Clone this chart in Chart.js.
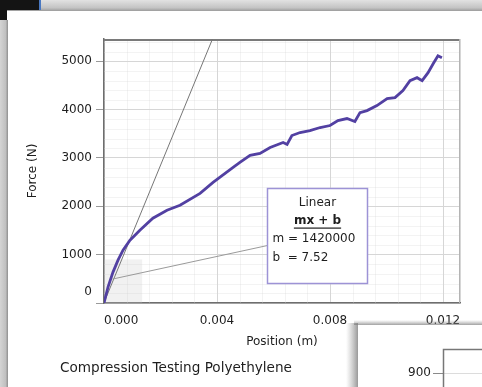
<!DOCTYPE html>
<html>
<head>
<meta charset="utf-8">
<script src="https://cdn.jsdelivr.net/npm/chart.js@4/dist/chart.umd.min.js"></script>
<style>
  html, body { margin: 0; padding: 0; background: #fff; overflow: hidden; }
  #wrap { width: 482px; height: 387px; position: relative; }
</style>
</head>
<body>
<div id="wrap"><canvas id="c" width="482" height="387"></canvas></div>
<script>
// Compression run: plunger position (m) and measured force (N)
const POSITION_M = [0, 0.000142, 0.000319, 0.000496, 0.000673, 0.00092, 0.00127, 0.00173, 0.00223,
  0.00269, 0.0034, 0.00386, 0.00457, 0.00481, 0.00517, 0.00552, 0.00588, 0.00634, 0.00648, 0.00665,
  0.00694, 0.00729, 0.00765, 0.008, 0.00828, 0.0086, 0.00888, 0.00906, 0.00931, 0.00966, 0.01002,
  0.0103, 0.01058, 0.01083, 0.01108, 0.01126, 0.01147, 0.01165, 0.01182, 0.01196];
const FORCE_N = [0, 330, 639, 887, 1093, 1299, 1505, 1753, 1918,
  2021, 2268, 2495, 2804, 2907, 3052, 3093, 3217, 3320, 3279, 3464,
  3526, 3567, 3629, 3670, 3773, 3815, 3753, 3938, 3979, 4083, 4227,
  4248, 4392, 4598, 4660, 4598, 4763, 4949, 5114, 5073];

// Axis ranges and labelled ticks
const X_RANGE = [0, 0.0126];
const Y_RANGE = [0, 5460];
const X_TICKS = [0, 0.004, 0.008, 0.012];
const Y_TICKS = [0, 1000, 2000, 3000, 4000, 5000];
const X_MINOR_STEP = 0.0008;
const Y_MINOR_STEP = 200;

// Linear fit over the initial elastic region
const FIT_M = 1420000;
const FIT_B = 7.52;
const FIT_SPAN = [0, 0.004];
const FIT_REGION_X = [0, 0.00135];
const FIT_REGION_Y = [0, 900];
const FIT_LABEL = ['Linear', 'mx + b', 'm = 1420000', 'b  = 7.52'];

const CAPTION = 'Compression Testing Polyethylene';
const SIDE_TICK = '900';

const FONT = '"DejaVu Sans", Verdana, sans-serif';

const curvePoints = POSITION_M.map((x, i) => ({ x, y: FORCE_N[i] }));
const fitPoints = FIT_SPAN.map(x => ({ x, y: FIT_M * x + FIT_B }));

// Window chrome around the graph and a second graph window overlapping the corner
const chromePlugin = {
  id: 'chrome',
  beforeDraw(chart) {
    const ctx = chart.ctx;
    const W = chart.width, H = chart.height;
    ctx.save();
    ctx.fillStyle = '#ffffff';
    ctx.fillRect(0, 0, W, H);
    // title bar
    const g = ctx.createLinearGradient(0, 0, 0, 11);
    g.addColorStop(0, '#e2e2e2');
    g.addColorStop(0.7, '#c4c4c4');
    g.addColorStop(1, '#9c9c9c');
    ctx.fillStyle = g;
    ctx.fillRect(0, 0, W, 11);
    // dark corner
    ctx.fillStyle = '#141414';
    ctx.fillRect(0, 0, 39, 10);
    ctx.fillRect(0, 10, 7, 10);
    ctx.fillStyle = '#4a78c0';
    ctx.fillRect(39, 0, 2, 10);
    // left frame strip
    const g2 = ctx.createLinearGradient(0, 0, 8, 0);
    g2.addColorStop(0, '#d4d4d4');
    g2.addColorStop(0.7, '#c0c0c0');
    g2.addColorStop(1, '#8e8e8e');
    ctx.fillStyle = g2;
    ctx.fillRect(0, 20, 8, H - 20);
    ctx.restore();
  },
  afterDraw(chart) {
    const ctx = chart.ctx;
    const W = chart.width, H = chart.height;
    ctx.save();
    // caption under the graph
    ctx.fillStyle = '#1e1e1e';
    ctx.font = '13.6px ' + FONT;
    ctx.textBaseline = 'middle';
    ctx.textAlign = 'left';
    ctx.fillText(CAPTION, 60, 368);

    // second window
    const px = 358, py = 325;
    const sl = ctx.createLinearGradient(px - 12, 0, px, 0);
    sl.addColorStop(0, 'rgba(150,150,150,0)');
    sl.addColorStop(1, 'rgba(110,110,110,0.7)');
    ctx.fillStyle = sl;
    ctx.fillRect(px - 12, py - 2, 12, H - py + 2);
    const st = ctx.createLinearGradient(0, py - 5, 0, py);
    st.addColorStop(0, 'rgba(150,150,150,0)');
    st.addColorStop(1, 'rgba(120,120,120,0.7)');
    ctx.fillStyle = st;
    ctx.fillRect(px - 4, py - 5, W - px + 4, 5);
    ctx.fillStyle = '#ffffff';
    ctx.fillRect(px, py, W - px, H - py);
    // its plot frame, grid and first tick label
    ctx.strokeStyle = '#dcdcdc';
    ctx.lineWidth = 1;
    ctx.beginPath();
    ctx.moveTo(443, 373.5); ctx.lineTo(W, 373.5);
    ctx.stroke();
    ctx.strokeStyle = '#8a8a8a';
    ctx.beginPath();
    ctx.moveTo(433, 373.5); ctx.lineTo(443, 373.5);
    ctx.stroke();
    ctx.strokeStyle = '#777';
    ctx.lineWidth = 1.5;
    ctx.beginPath();
    ctx.moveTo(443.5, H); ctx.lineTo(443.5, 349.5); ctx.lineTo(W, 349.5);
    ctx.stroke();
    ctx.fillStyle = '#1e1e1e';
    ctx.font = '12px ' + FONT;
    ctx.textAlign = 'right';
    ctx.fillText(SIDE_TICK, 431, 373);
    ctx.restore();
  }
};

// Minor grid, fit-region shading and the top/right frame of the plot
const plotFramePlugin = {
  id: 'plotFrame',
  beforeDatasetsDraw(chart) {
    const { ctx, chartArea: a, scales: { x, y } } = chart;
    ctx.save();
    ctx.strokeStyle = 'rgba(215,215,215,0.3)';
    ctx.lineWidth = 1;
    ctx.beginPath();
    for (let i = 1; i * X_MINOR_STEP < X_RANGE[1]; i++) {
      if (i % 5 === 0) continue;
      const p = Math.round(x.getPixelForValue(i * X_MINOR_STEP)) + 0.5;
      ctx.moveTo(p, a.top); ctx.lineTo(p, a.bottom);
    }
    for (let i = 1; i * Y_MINOR_STEP < Y_RANGE[1]; i++) {
      if (i % 5 === 0) continue;
      const p = Math.round(y.getPixelForValue(i * Y_MINOR_STEP)) + 0.5;
      ctx.moveTo(a.left, p); ctx.lineTo(a.right, p);
    }
    ctx.stroke();
    // selected fit region
    const x0 = x.getPixelForValue(FIT_REGION_X[0]), x1 = x.getPixelForValue(FIT_REGION_X[1]);
    const y0 = y.getPixelForValue(FIT_REGION_Y[0]), y1 = y.getPixelForValue(FIT_REGION_Y[1]);
    ctx.fillStyle = 'rgba(200,200,200,0.25)';
    ctx.fillRect(x0, y1, x1 - x0, y0 - y1);
    // frame
    ctx.strokeStyle = '#7a7a7a';
    ctx.lineWidth = 2;
    ctx.beginPath();
    ctx.moveTo(a.left, a.top + 1); ctx.lineTo(a.right, a.top + 1);
    ctx.stroke();
    ctx.strokeStyle = '#b4b4b4';
    ctx.lineWidth = 1;
    ctx.beginPath();
    ctx.moveTo(a.right - 0.5, a.top); ctx.lineTo(a.right - 0.5, a.bottom);
    ctx.stroke();
    ctx.restore();
  },
  afterDatasetsDraw(chart) {
    const { ctx, scales: { x, y } } = chart;
    ctx.save();
    // fit annotation box, anchored in data space
    const bx = Math.round(x.getPixelForValue(0.00578)) + 0.5;
    const by = Math.round(y.getPixelForValue(2370)) + 0.5;
    const bw = 100, bh = 95;
    // connector from the fitted region to the box
    ctx.strokeStyle = '#9a9a9a';
    ctx.lineWidth = 1;
    ctx.beginPath();
    ctx.moveTo(x.getPixelForValue(0.0003), y.getPixelForValue(495));
    ctx.lineTo(bx, by + 57);
    ctx.stroke();
    ctx.fillStyle = '#ffffff';
    ctx.fillRect(bx, by, bw, bh);
    ctx.strokeStyle = '#9d93d6';
    ctx.lineWidth = 1.5;
    ctx.strokeRect(bx, by, bw, bh);
    const cx = bx + bw / 2;
    ctx.fillStyle = '#1e1e1e';
    ctx.textBaseline = 'middle';
    ctx.textAlign = 'center';
    ctx.font = '12px ' + FONT;
    ctx.fillText(FIT_LABEL[0], cx, by + 14);
    ctx.font = 'bold 12px ' + FONT;
    ctx.fillText(FIT_LABEL[1], cx, by + 32);
    const uw = ctx.measureText(FIT_LABEL[1]).width;
    ctx.fillRect(cx - uw / 2, by + 39, uw, 1.2);
    ctx.textAlign = 'left';
    ctx.font = '12px ' + FONT;
    ctx.fillText(FIT_LABEL[2], bx + 5, by + 50);
    ctx.fillText(FIT_LABEL[3], bx + 5, by + 69);
    ctx.restore();
  }
};

new Chart(document.getElementById('c'), {
  type: 'scatter',
  data: {
    datasets: [
      {
        label: 'Force',
        data: curvePoints,
        showLine: true,
        borderColor: '#5240a2',
        backgroundColor: '#5240a2',
        borderWidth: 2.8,
        pointRadius: 0,
        tension: 0,
        order: 0
      },
      {
        label: 'Linear fit',
        data: fitPoints,
        showLine: true,
        borderColor: '#767676',
        borderWidth: 1,
        pointRadius: 0,
        order: 1
      }
    ]
  },
  options: {
    responsive: false,
    animation: false,
    devicePixelRatio: 1,
    layout: { padding: { left: 22, right: 22, top: 39, bottom: 38 } },
    plugins: { legend: { display: false }, tooltip: { enabled: false }, title: { display: false } },
    scales: {
      x: {
        type: 'linear',
        min: X_RANGE[0],
        max: X_RANGE[1],
        afterBuildTicks: s => { s.ticks = X_TICKS.concat([X_RANGE[1]]).map(v => ({ value: v })); },
        afterFit: s => { s.height = 46; },
        ticks: {
          autoSkip: false,
          maxRotation: 0,
          align: 'inner',
          padding: 11,
          color: '#1e1e1e',
          font: { family: FONT, size: 12 },
          callback: (v, i) => (i < X_TICKS.length ? Number(v).toFixed(3) : '')
        },
        grid: { color: '#d6d6d6', lineWidth: 1, drawTicks: false },
        border: { color: '#6e6e6e', width: 1.5 },
        title: {
          display: true,
          text: 'Position (m)',
          color: '#1e1e1e',
          font: { family: FONT, size: 12 },
          padding: { top: 0, bottom: 0 }
        }
      },
      y: {
        type: 'linear',
        min: Y_RANGE[0],
        max: Y_RANGE[1],
        afterBuildTicks: s => { s.ticks = Y_TICKS.map(v => ({ value: v })); },
        afterFit: s => { s.width = 82; },
        ticks: {
          padding: 4,
          color: '#1e1e1e',
          font: { family: FONT, size: 12, lineHeight: 0.95 },
          callback: v => (v === 0 ? ['0', '', ''] : String(v))
        },
        grid: { color: '#d6d6d6', lineWidth: 1, tickLength: 8, tickColor: '#9a9a9a' },
        border: { color: '#6e6e6e', width: 1.5 },
        title: {
          display: true,
          text: 'Force (N)',
          color: '#1e1e1e',
          font: { family: FONT, size: 12 },
          padding: { top: 4, bottom: 0 }
        }
      }
    }
  },
  plugins: [chromePlugin, plotFramePlugin]
});
</script>
</body>
</html>
